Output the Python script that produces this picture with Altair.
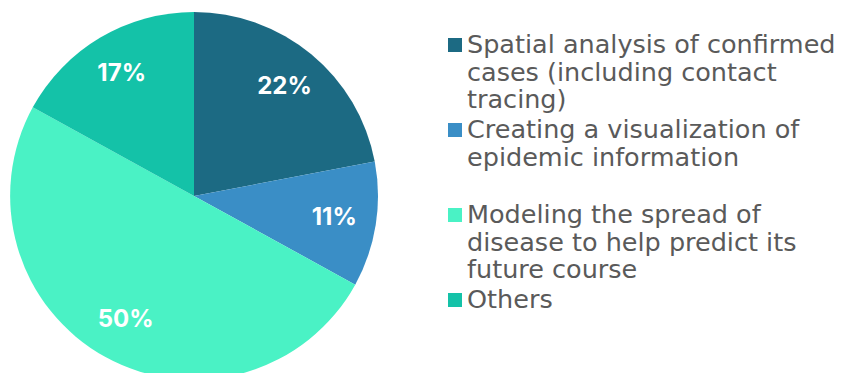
import altair as alt
import pandas as pd

categories = [
    "Spatial analysis of confirmed cases (including contact tracing)",
    "Creating a visualization of epidemic information",
    "Modeling the spread of disease to help predict its future course",
    "Others",
]
values = [22, 11, 50, 17]
colors = ["#1c6a83", "#3a8ec6", "#4af2c5", "#14c2a8"]
legend_lines = [
    ["Spatial analysis of confirmed", "cases (including contact", "tracing)"],
    ["Creating a visualization of", "epidemic information"],
    ["Modeling the spread of", "disease to help predict its", "future course"],
    ["Others"],
]

pie_df = pd.DataFrame({
    "category": categories,
    "value": values,
    "order": list(range(len(categories))),
    "label": [f"{v}%" for v in values],
})

leg_rows = []
for i, (cat, lines) in enumerate(zip(categories, legend_lines)):
    for j, t in enumerate(lines):
        leg_rows.append({"category": cat, "row": i, "line": j, "text": t})
leg_df = pd.DataFrame(leg_rows)
sq_df = pd.DataFrame({"category": categories, "row": list(range(len(categories)))})

color_scale = alt.Scale(domain=categories, range=colors)
LEG_FONT = "DejaVu Sans"
LBL_FONT = "Inter"
CX, CY, R = 194, 196, 184

base = alt.Chart(pie_df).encode(
    theta=alt.Theta("value:Q", stack=True),
    order=alt.Order("order:Q"),
)

arcs = base.mark_arc(outerRadius=R, stroke=None).encode(
    color=alt.Color("category:N", scale=color_scale, legend=None),
    x=alt.value(CX), y=alt.value(CY),
)

labels = base.mark_text(
    radius=142, font=LBL_FONT, fontSize=24, fontWeight="bold", color="white",
    align="center", baseline="middle",
).encode(text="label:N", x=alt.value(CX), y=alt.value(CY))

squares = alt.Chart(sq_df).transform_calculate(
    py="45 + datum.row * 85"
).mark_square(size=196, opacity=1).encode(
    x=alt.value(455),
    y=alt.Y("py:Q", scale=None),
    color=alt.Color("category:N", scale=color_scale, legend=None),
)

leg_text = alt.Chart(leg_df).transform_calculate(
    py="53 + datum.row * 85 + datum.line * 27.5"
).mark_text(
    font=LEG_FONT, fontSize=25.5, color="#5a5a5a", align="left", baseline="alphabetic",
).encode(
    x=alt.value(467),
    y=alt.Y("py:Q", scale=None),
    text="text:N",
)

chart = alt.layer(arcs, labels, squares, leg_text).properties(
    width=842, height=373, autosize=alt.AutoSizeParams(type="none"), padding=0,
    background="white",
).configure_view(stroke=None)

chart.save("out.html", embed_options={"renderer": "svg", "actions": False})
